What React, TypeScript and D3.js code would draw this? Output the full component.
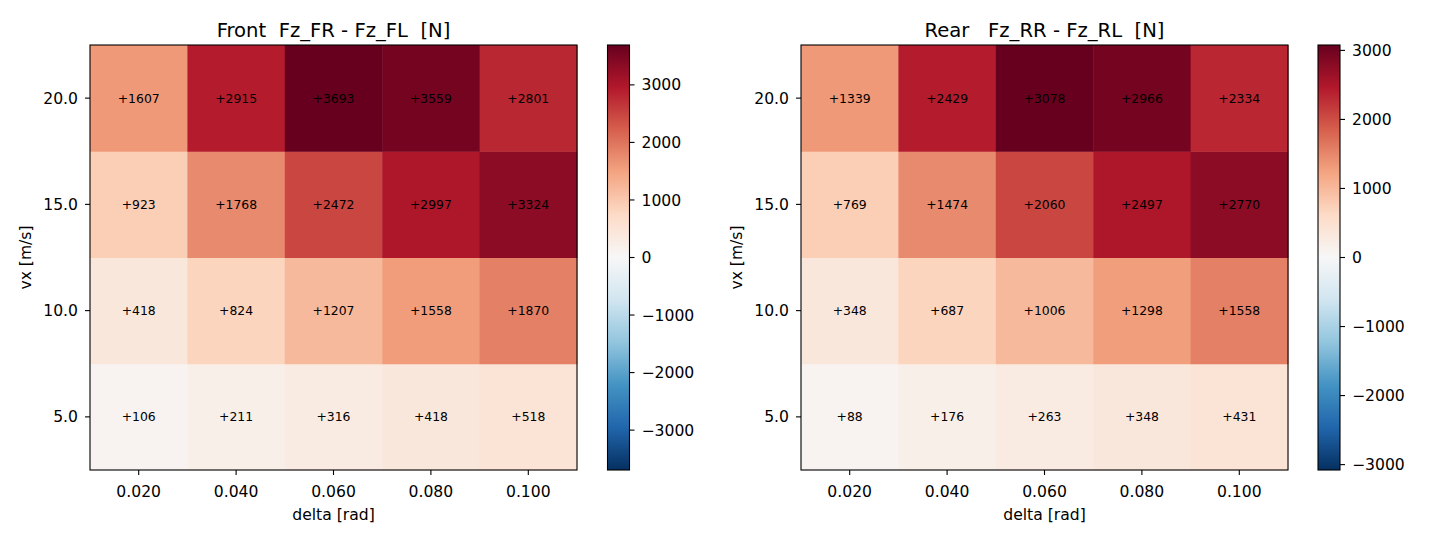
import React from "react";
import * as d3 from "d3";

// steering angle columns and speed rows
const deltas = [0.02, 0.04, 0.06, 0.08, 0.1];
const speeds = [5, 10, 15, 20];

// Fz difference [N], rows follow speeds (5 -> 20)
const frontDiff = [
  [106, 211, 316, 418, 518],
  [418, 824, 1207, 1558, 1870],
  [923, 1768, 2472, 2997, 3324],
  [1607, 2915, 3693, 3559, 2801],
];
const rearDiff = [
  [88, 176, 263, 348, 431],
  [348, 687, 1006, 1298, 1558],
  [769, 1474, 2060, 2497, 2770],
  [1339, 2429, 3078, 2966, 2334],
];

const cbarTicks = [-3000, -2000, -1000, 0, 1000, 2000, 3000];

// matplotlib RdBu, reversed (low -> high)
const rdbuR = [
  "#053061", "#2166ac", "#4393c3", "#92c5de", "#d1e5f0", "#f7f7f7",
  "#fddbc7", "#f4a582", "#d6604d", "#b2182b", "#67001f",
];

const FONT = "DejaVu Sans, sans-serif";
const TICK = 15.6;
const top = 45;
const bottom = 470;

type PanelProps = {
  id: string;
  title: string;
  values: number[][];
  left: number;
  right: number;
  cbLeft: number;
};

const Panel = ({ id, title, values, left, right, cbLeft }: PanelProps) => {
  const vmax = d3.max(values.flat(), (v) => Math.abs(v)) as number;
  const color = d3
    .scaleLinear<string>()
    .domain(rdbuR.map((_, i) => -vmax + (2 * vmax * i) / (rdbuR.length - 1)))
    .range(rdbuR)
    .interpolate(d3.interpolateRgb)
    .clamp(true);

  const x = d3.scaleLinear().domain([0.01, 0.11]).range([left, right]);
  const y = d3.scaleLinear().domain([2.5, 22.5]).range([bottom, top]);
  const cw = x(0.03) - x(0.01);
  const ch = y(2.5) - y(7.5);

  const cbW = 22;
  const cy = d3.scaleLinear().domain([-vmax, vmax]).range([bottom, top]);
  const fmt = (v: number) => (v < 0 ? "\u2212" + Math.abs(v) : String(v));

  return (
    <g>
      <text
        x={(left + right) / 2}
        y={36.5}
        textAnchor="middle"
        fontSize={19.6}
        fontFamily={FONT}
        style={{ whiteSpace: "pre" }}
      >
        {title}
      </text>
      {speeds.map((s, r) =>
        deltas.map((d, c) => (
          <g key={`${r}-${c}`}>
            <rect
              x={x(d) - cw / 2}
              y={y(s) - ch / 2}
              width={cw + 0.5}
              height={ch + 0.5}
              fill={color(values[r][c])}
            />
            <text
              x={x(d)}
              y={y(s)}
              dy="0.36em"
              textAnchor="middle"
              fontSize={12.4}
              fontFamily={FONT}
            >
              {"+" + values[r][c]}
            </text>
          </g>
        ))
      )}
      <rect x={left} y={top} width={right - left} height={bottom - top} fill="none" stroke="#000" strokeWidth={1.1} />
      {deltas.map((d) => (
        <g key={d}>
          <line x1={x(d)} x2={x(d)} y1={bottom} y2={bottom + 5} stroke="#000" strokeWidth={1.1} />
          <text x={x(d)} y={497} textAnchor="middle" fontSize={TICK} fontFamily={FONT}>
            {d.toFixed(3)}
          </text>
        </g>
      ))}
      {speeds.map((s) => (
        <g key={s}>
          <line x1={left - 5} x2={left} y1={y(s)} y2={y(s)} stroke="#000" strokeWidth={1.1} />
          <text x={left - 12} y={y(s)} dy="0.36em" textAnchor="end" fontSize={TICK} fontFamily={FONT}>
            {s.toFixed(1)}
          </text>
        </g>
      ))}
      <text x={(left + right) / 2} y={519.5} textAnchor="middle" fontSize={TICK} fontFamily={FONT}>
        delta [rad]
      </text>
      <text
        transform={`translate(${left - 59},${(top + bottom) / 2}) rotate(-90)`}
        textAnchor="middle"
        fontSize={TICK}
        fontFamily={FONT}
      >
        vx [m/s]
      </text>

      {/* colorbar */}
      <defs>
        <linearGradient id={id} x1="0" y1="1" x2="0" y2="0">
          {rdbuR.map((c, i) => (
            <stop key={i} offset={i / (rdbuR.length - 1)} stopColor={c} />
          ))}
        </linearGradient>
      </defs>
      <rect x={cbLeft} y={top} width={cbW} height={bottom - top} fill={`url(#${id})`} stroke="#000" strokeWidth={1.1} />
      {cbarTicks.map((t) => (
        <g key={t}>
          <line x1={cbLeft + cbW} x2={cbLeft + cbW + 5} y1={cy(t)} y2={cy(t)} stroke="#000" strokeWidth={1.1} />
          <text x={cbLeft + cbW + 12} y={cy(t)} dy="0.36em" fontSize={TICK} fontFamily={FONT}>
            {fmt(t)}
          </text>
        </g>
      ))}
    </g>
  );
};

export default function App() {
  return (
    <svg
      width={1440}
      height={540}
      style={{ position: "absolute", left: 0, top: 0, background: "#fff" }}
    >
      <rect width={1440} height={540} fill="#fff" />
      <Panel id="cbFront" title="Front  Fz_FR - Fz_FL  [N]" values={frontDiff} left={90} right={577} cbLeft={607.5} />
      <Panel id="cbRear" title="Rear   Fz_RR - Fz_RL  [N]" values={rearDiff} left={801} right={1288} cbLeft={1318} />
    </svg>
  );
}
